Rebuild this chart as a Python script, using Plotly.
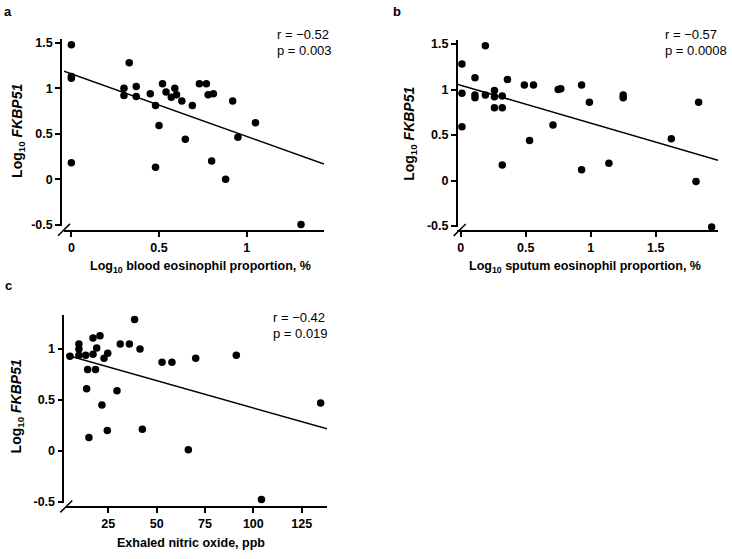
import plotly.graph_objects as go

W, H = 732, 559

# ---------------- data ----------------
# Panel a: blood eosinophils
a_x = [0, 0, 0, 0, 0.30, 0.30, 0.33, 0.37, 0.37, 0.45, 0.48, 0.48, 0.50, 0.52, 0.54, 0.59,
       0.60, 0.57, 0.63, 0.65, 0.69, 0.73, 0.77, 0.78, 0.81, 0.80, 0.88, 0.92, 0.95, 1.05, 1.31]
a_y = [1.48, 1.13, 1.11, 0.18, 1.00, 0.92, 1.28, 1.02, 0.91, 0.94, 0.81, 0.13, 0.59, 1.05, 0.96, 1.00,
       0.93, 0.90, 0.86, 0.44, 0.81, 1.05, 1.05, 0.93, 0.94, 0.20, 0.00, 0.86, 0.46, 0.62, -0.50]
a_fit = (1.16, -0.69)  # intercept, slope
a_stats = ("r = \u22120.52", "p = 0.003")

# Panel b: sputum eosinophils
b_x = [0.01, 0.01, 0.01, 0.19, 0.11, 0.11, 0.11, 0.19, 0.26, 0.26, 0.26, 0.32, 0.32, 0.32, 0.36, 0.49,
       0.56, 0.53, 0.71, 0.75, 0.77, 0.93, 0.93, 0.99, 1.14, 1.25, 1.25, 1.62, 1.83, 1.81, 1.93]
b_y = [1.28, 0.96, 0.59, 1.48, 1.13, 0.94, 0.91, 0.94, 0.99, 0.92, 0.80, 0.93, 0.80, 0.17, 1.11, 1.05,
       1.05, 0.44, 0.61, 1.00, 1.01, 1.05, 0.12, 0.86, 0.19, 0.94, 0.91, 0.46, 0.86, -0.01, -0.51]
b_fit = (1.047, -0.416)
b_stats = ("r = \u22120.57", "p = 0.0008")

# Panel c: exhaled nitric oxide
c_x = [5.2, 9.8, 9.8, 9.8, 13.3, 14.3, 13.8, 15.0, 17.1, 17.1, 18.4, 19.0, 20.7, 21.7, 22.8,
       24.7, 24.5, 29.5, 31.2, 35.9, 38.6, 41.4, 42.6, 52.8, 57.9, 66.4, 70.2, 91.2, 104.2, 134.8]
c_y = [0.93, 1.05, 1.00, 0.94, 0.94, 0.80, 0.61, 0.13, 1.11, 0.95, 0.80, 1.01, 1.13, 0.45, 0.91,
       0.96, 0.20, 0.59, 1.05, 1.05, 1.29, 1.00, 0.21, 0.87, 0.87, 0.01, 0.91, 0.94, -0.48, 0.47]
c_fit = (0.959, -0.00539)
c_stats = ("r = \u22120.42", "p = 0.019")

y_ticks_ab = [-0.5, 0, 0.5, 1, 1.5]
y_ticks_c = [-0.5, 0, 0.5, 1]
y_ticktext_ab = ["-0.5", "0", "0.5", "1", "1.5"]
y_ticktext_c = ["-0.5", "0", "0.5", "1"]
x_ticks_a = [0, 0.5, 1]
x_ticks_b = [0, 0.5, 1, 1.5]
x_ticks_c = [25, 50, 75, 100, 125]
x_ticktext_a = ["0", "0.5", "1"]
x_ticktext_b = ["0", "0.5", "1", "1.5"]
x_ticktext_c = ["25", "50", "75", "100", "125"]

y_title = "Log<sub>10</sub> <i>FKBP51</i>"
x_title_a = "Log<sub>10</sub> blood eosinophil proportion, %"
x_title_b = "Log<sub>10</sub> sputum eosinophil proportion, %"
x_title_c = "Exhaled nitric oxide, ppb"


def px(x):
    return x / W


def py(y):
    return 1 - y / H


FONT = "Liberation Sans, Arial, sans-serif"
tickfont = dict(family=FONT, size=12.5, color="black", weight="bold")

# panel geometry (pixels)
panels = [
    dict(xs="x", ys="y", xd=(64, 324), xr=(-0.042, 1.441), xline=231.5,
         yd=(227, 37), yr=(-0.5195, 1.538), yline=61,
         xt=(x_ticks_a, x_ticktext_a), yt=(y_ticks_ab, y_ticktext_ab),
         data=(a_x, a_y), fit=a_fit, stats=a_stats, stats_pos=(275, 32),
         label="a", label_pos=(8, 9), ytitle_pos=(18, 130), xtitle=x_title_a, xtitle_pos=(200, 268)),
    dict(xs="x2", ys="y2", xd=(457, 718), xr=(-0.028, 1.979), xline=231.7,
         yd=(228, 38), yr=(-0.514, 1.54), yline=456.7,
         xt=(x_ticks_b, x_ticktext_b), yt=(y_ticks_ab, y_ticktext_ab),
         data=(b_x, b_y), fit=b_fit, stats=b_stats, stats_pos=(663, 32),
         label="b", label_pos=(397, 9), ytitle_pos=(410, 133), xtitle=x_title_b, xtitle_pos=(585, 268)),
    dict(xs="x3", ys="y3", xd=(66, 327), xr=(3.13, 138.1), xline=512.7,
         yd=(508, 316.7), yr=(-0.5126, 1.339), yline=63.3,
         xt=(x_ticks_c, x_ticktext_c), yt=(y_ticks_c, y_ticktext_c),
         data=(c_x, c_y), fit=c_fit, stats=c_stats, stats_pos=(271, 320),
         label="c", label_pos=(8, 287), ytitle_pos=(17, 410), xtitle=x_title_c, xtitle_pos=(191, 549)),
]

fig = go.Figure()
layout = dict(
    width=W, height=H, autosize=False,
    margin=dict(l=0, r=0, t=0, b=0),
    paper_bgcolor="white", plot_bgcolor="white",
    showlegend=False,
    font=dict(family=FONT, color="black"),
)
annotations = []
shapes = []

for i, p in enumerate(panels):
    xs, ys = p["xs"], p["ys"]
    xk = "xaxis" if xs == "x" else "xaxis" + xs[1:]
    yk = "yaxis" if ys == "y" else "yaxis" + ys[1:]
    layout[xk] = dict(
        domain=[px(p["xd"][0]), px(p["xd"][1])], range=list(p["xr"]),
        anchor="free", position=py(p["xline"]),
        showline=True, linecolor="black", linewidth=1.5,
        ticks="outside", ticklen=5, tickwidth=1.5, tickcolor="black",
        tickvals=p["xt"][0], ticktext=p["xt"][1], tickfont=tickfont,
        showgrid=False, zeroline=False, fixedrange=True,
    )
    layout[yk] = dict(
        domain=[py(p["yd"][0]), py(p["yd"][1])], range=list(p["yr"]),
        anchor="free", position=px(p["yline"]),
        showline=True, linecolor="black", linewidth=1.5,
        ticks="outside", ticklen=5, tickwidth=1.5, tickcolor="black",
        tickvals=p["yt"][0], ticktext=p["yt"][1], tickfont=tickfont,
        showgrid=False, zeroline=False, fixedrange=True,
    )
    x0, x1 = p["xr"]
    b0, m = p["fit"]
    fig.add_trace(go.Scatter(
        x=[x0, x1], y=[b0 + m * x0, b0 + m * x1], mode="lines",
        line=dict(color="black", width=1.5), xaxis=xs, yaxis=ys, hoverinfo="skip",
    ))
    fig.add_trace(go.Scatter(
        x=p["data"][0], y=p["data"][1], mode="markers",
        marker=dict(color="black", size=7.5, line=dict(width=0)),
        xaxis=xs, yaxis=ys, cliponaxis=False,
    ))
    # stats text
    sx, sy = p["stats_pos"]
    for k, t in enumerate(p["stats"]):
        annotations.append(dict(
            x=px(sx), y=py(sy + 16 * k), xref="paper", yref="paper",
            xanchor="left", yanchor="middle", text=t, showarrow=False,
            font=dict(family=FONT, size=13, color="black"),
        ))
    # panel label
    lx, ly = p["label_pos"]
    annotations.append(dict(
        x=px(lx), y=py(ly), xref="paper", yref="paper", xanchor="center", yanchor="middle",
        text="<b>%s</b>" % p["label"], showarrow=False,
        font=dict(family=FONT, size=13, color="black"),
    ))
    # axis titles
    tx, ty = p["ytitle_pos"]
    annotations.append(dict(
        x=px(tx), y=py(ty), xref="paper", yref="paper", xanchor="center", yanchor="middle",
        text="<b>%s</b>" % y_title, textangle=-90, showarrow=False,
        font=dict(family=FONT, size=14, color="black"),
    ))
    tx, ty = p["xtitle_pos"]
    annotations.append(dict(
        x=px(tx), y=py(ty), xref="paper", yref="paper", xanchor="center", yanchor="middle",
        text="<b>%s</b>" % p["xtitle"], showarrow=False,
        font=dict(family=FONT, size=12.5, color="black"),
    ))
    # axis break slash at the corner
    cx, cy = p["yline"], p["xline"]
    shapes.append(dict(
        type="line", xref="paper", yref="paper",
        x0=px(cx - 3), y0=py(cy + 5), x1=px(cx + 9), y1=py(cy - 7),
        line=dict(color="black", width=1.5),
    ))

layout["annotations"] = annotations
layout["shapes"] = shapes
fig.update_layout(**layout)
fig.write_html(
    "out.html",
    config={"displayModeBar": False},
    post_script="document.body.style.margin='0';document.body.style.padding='0';",
)
